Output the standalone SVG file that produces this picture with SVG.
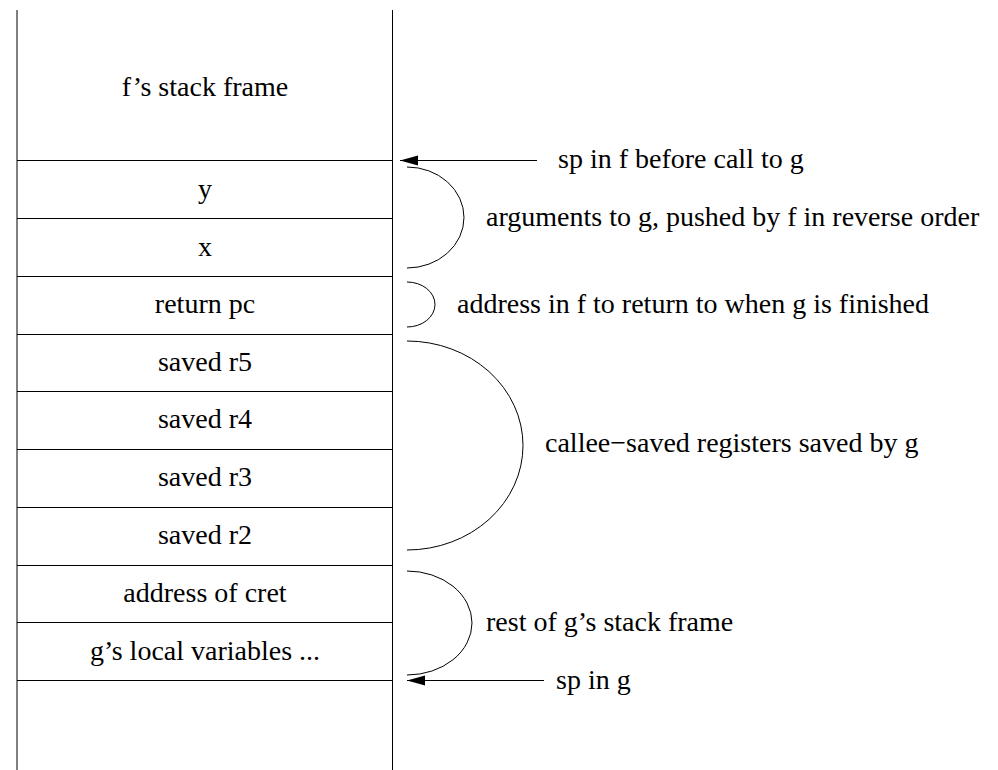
<svg xmlns="http://www.w3.org/2000/svg" width="998" height="770" viewBox="0 0 998 770">
<defs>
<style>
.t{font-size:28px;fill:#000}
.c{text-anchor:middle}
.ln{stroke:#000;stroke-width:1;fill:none}
</style>
<marker id="ah" markerUnits="userSpaceOnUse" markerWidth="20" markerHeight="12" refX="18" refY="5" orient="auto">
<path d="M0,0 L18,5 L0,10 Z" fill="#000"/>
</marker>
</defs>
<rect width="998" height="770" fill="#fff"/>
<g id="stack">
<line class="ln" x1="17" y1="10" x2="17" y2="770"/>
<line class="ln" x1="392.5" y1="10" x2="392.5" y2="770"/>
</g>
<g font-family="'Liberation Serif', 'Times New Roman', serif">
<g id="frame-f"><text class="t c" x="205" y="96">f’s stack frame</text></g>
<g id="cell-y"><line class="ln" x1="17" y1="160.5" x2="392.5" y2="160.5"/><text class="t c" x="205" y="198">y</text></g>
<g id="cell-x"><line class="ln" x1="17" y1="218.5" x2="392.5" y2="218.5"/><text class="t c" x="205" y="256">x</text></g>
<g id="cell-pc"><line class="ln" x1="17" y1="276.5" x2="392.5" y2="276.5"/><text class="t c" x="205" y="313">return pc</text></g>
<g id="cell-r5"><line class="ln" x1="17" y1="334.5" x2="392.5" y2="334.5"/><text class="t c" x="205" y="371">saved r5</text></g>
<g id="cell-r4"><line class="ln" x1="17" y1="391.5" x2="392.5" y2="391.5"/><text class="t c" x="205" y="428">saved r4</text></g>
<g id="cell-r3"><line class="ln" x1="17" y1="449.5" x2="392.5" y2="449.5"/><text class="t c" x="205" y="486">saved r3</text></g>
<g id="cell-r2"><line class="ln" x1="17" y1="507.5" x2="392.5" y2="507.5"/><text class="t c" x="205" y="544">saved r2</text></g>
<g id="cell-cret"><line class="ln" x1="17" y1="565.5" x2="392.5" y2="565.5"/><text class="t c" x="205" y="602">address of cret</text></g>
<g id="cell-locals"><line class="ln" x1="17" y1="622.5" x2="392.5" y2="622.5"/><text class="t c" x="205" y="660">g’s local variables ...</text></g>
<g id="cell-end"><line class="ln" x1="17" y1="680.5" x2="392.5" y2="680.5"/></g>
<g id="connectors">
<line class="ln" x1="537" y1="160.5" x2="400" y2="160.5" marker-end="url(#ah)"/>
<line class="ln" x1="544" y1="680.5" x2="407" y2="680.5" marker-end="url(#ah)"/>
<path class="ln" d="M407,167 A57,50.5 0 0 1 407,268"/>
<path class="ln" d="M407,282 A28,22.5 0 0 1 407,327"/>
<path class="ln" d="M407,341 A116,104.5 0 0 1 407,550"/>
<path class="ln" d="M407,571 A65,52 0 0 1 407,675"/>
</g>
<g id="labels">
<text class="t" x="558" y="168">sp in f before call to g</text>
<text class="t" x="486" y="226">arguments to g, pushed by f in reverse order</text>
<text class="t" x="457" y="313">address in f to return to when g is finished</text>
<text class="t" x="545" y="452">callee−saved registers saved by g</text>
<text class="t" x="486" y="631">rest of g’s stack frame</text>
<text class="t" x="556" y="689">sp in g</text>
</g>
</g>
</svg>
